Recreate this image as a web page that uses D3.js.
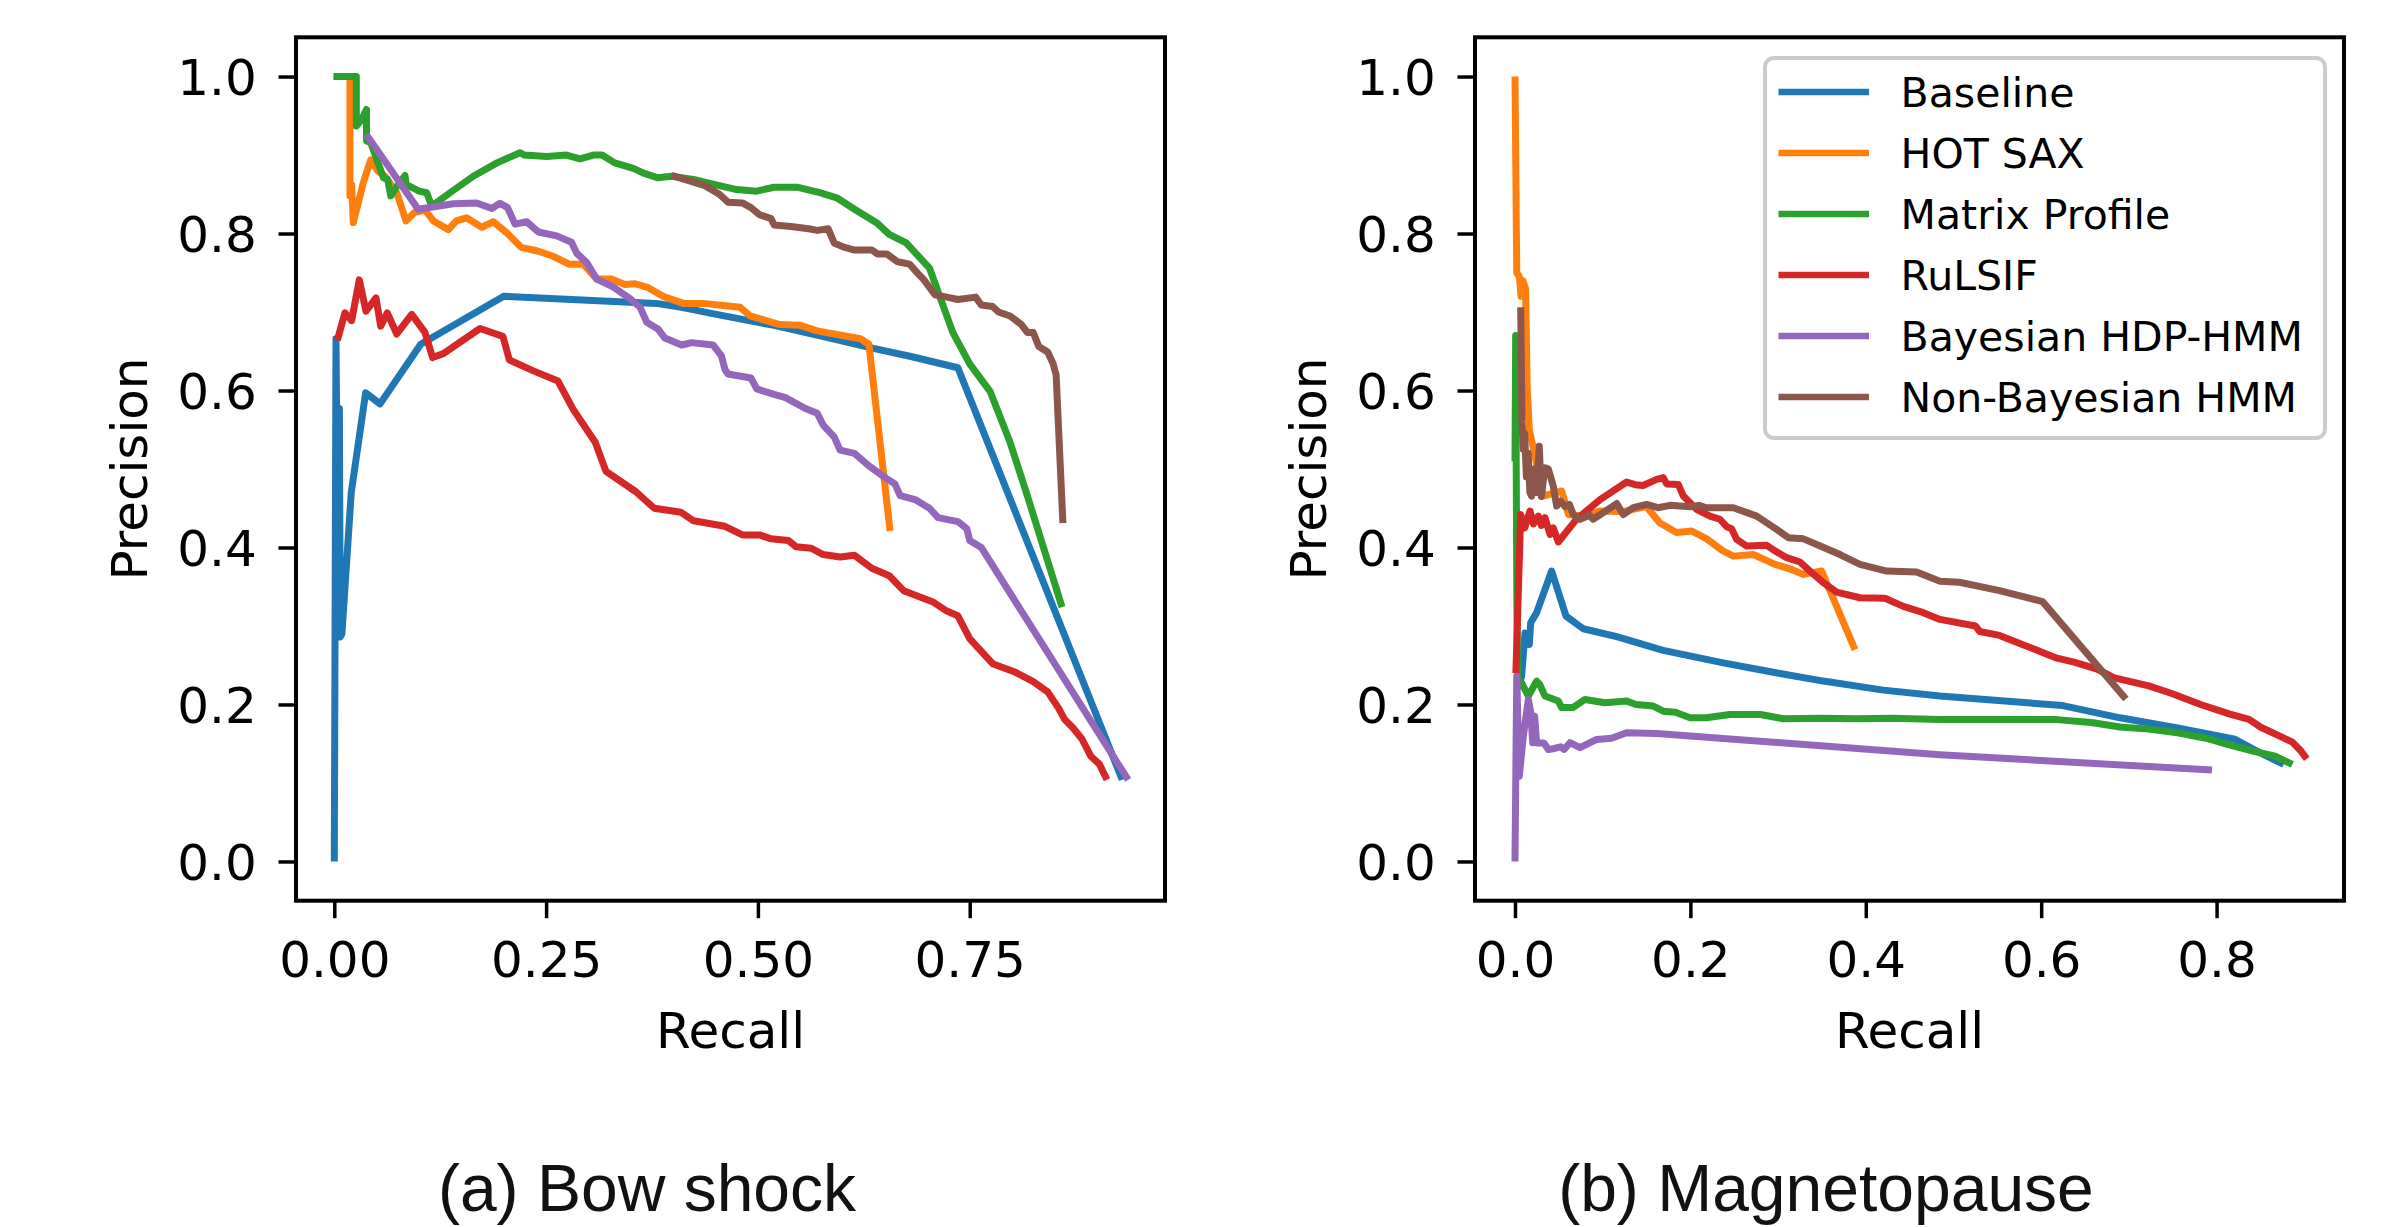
<!DOCTYPE html>
<html>
<head>
<meta charset="utf-8">
<script src="https://cdn.jsdelivr.net/npm/d3@7"></script>
<style>
  html, body { margin: 0; padding: 0; background: #ffffff; }
  svg { display: block; }
</style>
</head>
<body>
<svg id="chart" width="2385" height="1227"></svg>
<script>
// ---------------- DATA ----------------
const seriesNames = ["Baseline", "HOT SAX", "Matrix Profile", "RuLSIF", "Bayesian HDP-HMM", "Non-Bayesian HMM"];
const seriesColors = ["#1f77b4", "#ff7f0e", "#2ca02c", "#d62728", "#9467bd", "#8c564b"];

const yTickValues = [0.0, 0.2, 0.4, 0.6, 0.8, 1.0];
const yTickLabels = ["0.0", "0.2", "0.4", "0.6", "0.8", "1.0"];
const bowXTickValues = [0, 0.25, 0.5, 0.75];
const bowXTickLabels = ["0.00", "0.25", "0.50", "0.75"];
const mpXTickValues = [0, 0.2, 0.4, 0.6, 0.8];
const mpXTickLabels = ["0.0", "0.2", "0.4", "0.6", "0.8"];

const captions = ["(a) Bow shock", "(b) Magnetopause"];

// (a) Bow shock : [recall, precision]
const bowBaseline = [[0,0],[0.002,0.666],[0.005,0.286],[0.006,0.577],[0.007,0.286],[0.009,0.29],[0.02,0.47],[0.037,0.597],[0.054,0.583],[0.102,0.659],[0.2,0.72],[0.38,0.711],[0.41,0.706],[0.451,0.697],[0.519,0.683],[0.58,0.668],[0.635,0.654],[0.682,0.643],[0.736,0.629],[0.93,0.104]];
const bowHotSax = [[0.0185,1.0],[0.0185,0.848],[0.0205,0.862],[0.0224,0.814],[0.0343,0.865],[0.043,0.894],[0.051,0.880],[0.06,0.873],[0.0737,0.852],[0.0846,0.816],[0.095,0.827],[0.107,0.83],[0.117,0.816],[0.1346,0.805],[0.144,0.816],[0.156,0.820],[0.174,0.808],[0.1877,0.815],[0.2035,0.801],[0.221,0.782],[0.239,0.778],[0.2585,0.771],[0.277,0.761],[0.294,0.761],[0.3097,0.742],[0.327,0.742],[0.343,0.735],[0.355,0.736],[0.3706,0.731],[0.388,0.720],[0.412,0.711],[0.4355,0.711],[0.479,0.706],[0.4907,0.695],[0.526,0.684],[0.55,0.683],[0.570,0.676],[0.621,0.666],[0.631,0.659],[0.656,0.421]];
const bowMatrix = [[-0.001,1.0],[0.026,1.0],[0.026,0.937],[0.032,0.945],[0.038,0.958],[0.038,0.918],[0.043,0.916],[0.050,0.895],[0.058,0.871],[0.063,0.869],[0.0666,0.848],[0.074,0.86],[0.0834,0.874],[0.085,0.862],[0.093,0.858],[0.10,0.854],[0.109,0.852],[0.115,0.835],[0.1366,0.852],[0.164,0.873],[0.192,0.890],[0.219,0.903],[0.2245,0.900],[0.2507,0.898],[0.274,0.900],[0.290,0.895],[0.3057,0.900],[0.316,0.900],[0.331,0.890],[0.353,0.883],[0.365,0.877],[0.382,0.871],[0.3975,0.873],[0.4237,0.869],[0.447,0.863],[0.475,0.856],[0.4986,0.854],[0.519,0.859],[0.546,0.859],[0.573,0.852],[0.594,0.845],[0.614,0.831],[0.641,0.813],[0.655,0.799],[0.675,0.788],[0.7025,0.756],[0.730,0.674],[0.75,0.634],[0.774,0.599],[0.7976,0.534],[0.818,0.466],[0.859,0.324]];
const bowRulsif = [[0.0036,0.664],[0.0126,0.699],[0.0205,0.689],[0.0295,0.741],[0.0374,0.701],[0.0492,0.718],[0.0548,0.682],[0.0626,0.699],[0.0737,0.672],[0.0914,0.697],[0.107,0.674],[0.116,0.642],[0.1287,0.647],[0.172,0.679],[0.199,0.669],[0.2066,0.639],[0.235,0.625],[0.264,0.612],[0.282,0.576],[0.308,0.534],[0.3207,0.497],[0.356,0.471],[0.3777,0.45],[0.409,0.445],[0.424,0.434],[0.461,0.427],[0.4817,0.416],[0.502,0.416],[0.5156,0.411],[0.536,0.409],[0.545,0.401],[0.563,0.399],[0.577,0.391],[0.597,0.388],[0.614,0.390],[0.6345,0.3736],[0.655,0.364],[0.672,0.345],[0.689,0.338],[0.706,0.331],[0.723,0.319],[0.736,0.313],[0.75,0.284],[0.777,0.252],[0.804,0.241],[0.825,0.229],[0.842,0.216],[0.855,0.195],[0.862,0.181],[0.872,0.170],[0.8825,0.156],[0.893,0.134],[0.903,0.124],[0.912,0.104]];
const bowBayes = [[0.038,0.926],[0.099,0.831],[0.1405,0.838],[0.168,0.839],[0.1858,0.832],[0.1956,0.8385],[0.2045,0.833],[0.2133,0.812],[0.227,0.815],[0.2408,0.802],[0.2625,0.797],[0.280,0.789],[0.286,0.775],[0.298,0.763],[0.3097,0.742],[0.329,0.732],[0.349,0.717],[0.361,0.706],[0.3688,0.687],[0.3824,0.678],[0.390,0.667],[0.410,0.658],[0.4217,0.661],[0.447,0.658],[0.457,0.644],[0.461,0.627],[0.4647,0.621],[0.4918,0.616],[0.4986,0.602],[0.519,0.595],[0.5326,0.591],[0.556,0.577],[0.570,0.571],[0.577,0.556],[0.590,0.541],[0.597,0.524],[0.614,0.52],[0.631,0.504],[0.6515,0.488],[0.6617,0.481],[0.668,0.466],[0.6855,0.461],[0.7025,0.45],[0.7126,0.438],[0.736,0.433],[0.7466,0.424],[0.75,0.409],[0.7636,0.4],[0.937,0.104]];
const bowNonBayes = [[0.398,0.874],[0.4375,0.861],[0.4545,0.85],[0.4647,0.84],[0.4817,0.839],[0.4918,0.833],[0.502,0.824],[0.5156,0.819],[0.519,0.811],[0.539,0.809],[0.5598,0.806],[0.570,0.804],[0.583,0.806],[0.590,0.788],[0.6005,0.783],[0.614,0.779],[0.6345,0.779],[0.641,0.774],[0.652,0.774],[0.665,0.764],[0.679,0.761],[0.689,0.749],[0.696,0.741],[0.709,0.722],[0.723,0.719],[0.736,0.716],[0.757,0.719],[0.7636,0.709],[0.777,0.707],[0.784,0.70],[0.7976,0.695],[0.811,0.684],[0.818,0.674],[0.825,0.674],[0.8315,0.656],[0.842,0.649],[0.8485,0.634],[0.852,0.62],[0.86,0.431]];

// (b) Magnetopause : [recall, precision]
const mpBaseline = [[0.003,0.22],[0.0076,0.236],[0.0114,0.291],[0.0163,0.2765],[0.0179,0.304],[0.0247,0.317],[0.0418,0.370],[0.0582,0.3126],[0.0779,0.2965],[0.116,0.2864],[0.169,0.269],[0.2375,0.253],[0.2945,0.241],[0.3515,0.2298],[0.42,0.2183],[0.4846,0.2107],[0.6246,0.1986],[0.69,0.183],[0.7555,0.170],[0.821,0.1557],[0.847,0.14],[0.8766,0.1236]];
const mpHotSax = [[0,1.0],[0.002,0.75],[0.005,0.745],[0.007,0.72],[0.009,0.74],[0.012,0.73],[0.014,0.60],[0.0163,0.5505],[0.0323,0.4655],[0.0532,0.472],[0.061,0.442],[0.0779,0.44],[0.097,0.4465],[0.1235,0.446],[0.150,0.452],[0.165,0.4316],[0.184,0.419],[0.2015,0.421],[0.2186,0.411],[0.2375,0.3954],[0.249,0.389],[0.2717,0.391],[0.2965,0.3785],[0.3155,0.372],[0.3288,0.3657],[0.3497,0.37],[0.3877,0.270]];
const mpMatrix = [[0,0.51],[0.0008,0.67],[0.002,0.35],[0.003,0.228],[0.0076,0.2277],[0.0152,0.2107],[0.0247,0.2298],[0.028,0.226],[0.0342,0.2107],[0.0494,0.2043],[0.0532,0.196],[0.066,0.196],[0.0798,0.2064],[0.1026,0.2022],[0.1273,0.2043],[0.138,0.2],[0.1577,0.198],[0.169,0.1915],[0.183,0.19],[0.1995,0.1831],[0.218,0.1831],[0.245,0.1873],[0.28,0.1873],[0.306,0.1818],[0.35,0.1825],[0.3896,0.1818],[0.43,0.1825],[0.4846,0.181],[0.618,0.1807],[0.657,0.177],[0.69,0.1714],[0.7227,0.1686],[0.7555,0.164],[0.788,0.157],[0.8144,0.1486],[0.8406,0.141],[0.8668,0.134],[0.8864,0.1236]];
const mpRulsif = [[0.001,0.24],[0.0065,0.442],[0.011,0.425],[0.0171,0.4465],[0.021,0.43],[0.0266,0.44],[0.030,0.428],[0.0342,0.438],[0.04,0.4167],[0.0437,0.425],[0.0494,0.407],[0.070,0.4358],[0.097,0.461],[0.1273,0.4834],[0.137,0.480],[0.146,0.479],[0.1615,0.4868],[0.169,0.489],[0.173,0.481],[0.1862,0.4804],[0.192,0.4655],[0.207,0.4486],[0.2223,0.44],[0.2337,0.436],[0.2414,0.4265],[0.247,0.424],[0.2528,0.4103],[0.2642,0.4018],[0.287,0.4027],[0.296,0.396],[0.3098,0.387],[0.325,0.3815],[0.3364,0.37],[0.3516,0.3552],[0.3668,0.3432],[0.3934,0.336],[0.4219,0.3353],[0.4428,0.325],[0.4656,0.317],[0.4846,0.3084],[0.525,0.300],[0.53,0.293],[0.5525,0.288],[0.585,0.2736],[0.618,0.259],[0.6376,0.254],[0.6638,0.245],[0.6835,0.234],[0.7227,0.2236],[0.749,0.214],[0.7817,0.200],[0.8144,0.188],[0.837,0.181],[0.8504,0.171],[0.8733,0.159],[0.8864,0.152],[0.896,0.141],[0.9028,0.1307]];
const mpBayes = [[0,0],[0.002,0.236],[0.0049,0.1087],[0.0095,0.1597],[0.0152,0.2064],[0.018,0.19],[0.0202,0.1513],[0.0224,0.185],[0.0247,0.151],[0.033,0.151],[0.038,0.1427],[0.045,0.144],[0.052,0.146],[0.056,0.1427],[0.0627,0.1513],[0.0741,0.145],[0.0932,0.1555],[0.11,0.157],[0.1273,0.164],[0.1616,0.163],[0.4846,0.136],[0.7948,0.1164]];
const mpNonBayes = [[0.0065,0.706],[0.008,0.56],[0.0095,0.525],[0.011,0.545],[0.013,0.49],[0.015,0.52],[0.017,0.47],[0.019,0.4655],[0.022,0.50],[0.025,0.47],[0.0277,0.529],[0.030,0.465],[0.0342,0.5017],[0.038,0.50],[0.0437,0.478],[0.0475,0.4528],[0.052,0.459],[0.057,0.452],[0.062,0.455],[0.0665,0.442],[0.0741,0.4358],[0.085,0.441],[0.089,0.436],[0.096,0.441],[0.116,0.456],[0.1235,0.442],[0.1349,0.4507],[0.150,0.455],[0.163,0.4507],[0.1767,0.4537],[0.20,0.452],[0.21,0.4537],[0.218,0.4507],[0.249,0.4507],[0.2756,0.44],[0.2984,0.423],[0.3117,0.4125],[0.329,0.411],[0.348,0.4018],[0.3706,0.391],[0.3934,0.3785],[0.4238,0.370],[0.458,0.3687],[0.4846,0.357],[0.5067,0.3557],[0.5525,0.345],[0.6016,0.331],[0.6966,0.207]];

const bowSeries = [bowBaseline, bowHotSax, bowMatrix, bowRulsif, bowBayes, bowNonBayes];
const mpSeries = [mpBaseline, mpHotSax, mpMatrix, mpRulsif, mpBayes, mpNonBayes];

// ---------------- LAYOUT ----------------
const svg = d3.select("#chart");
svg.append("rect").attr("x", 0).attr("y", 0).attr("width", 2385).attr("height", 1227).attr("fill", "#ffffff");

const FONT = "'DejaVu Sans', 'Noto Sans', sans-serif";
const FS = 50;
const TICK_LEN = 17.5;
const LINE_W = 7;

const yDomain = [-0.05, 1.05];
const plotTop = 37.3, plotBottom = 900.7;

const panels = [
  { left: 296, right: 1165, xDomain: [-0.0452, 0.9805], series: bowSeries, xTicks: bowXTickValues, xLabels: bowXTickLabels, caption: captions[0], capX: 647, legend: false },
  { left: 1475, right: 2344, xDomain: [-0.0456, 0.9453], series: mpSeries, xTicks: mpXTickValues, xLabels: mpXTickLabels, caption: captions[1], capX: 1826, legend: true }
];

panels.forEach((p, pi) => {
  const x = d3.scaleLinear().domain(p.xDomain).range([p.left, p.right]);
  const y = d3.scaleLinear().domain(yDomain).range([plotBottom, plotTop]);

  const clipId = "clip" + pi;
  svg.append("clipPath").attr("id", clipId)
    .append("rect").attr("x", p.left).attr("y", plotTop)
    .attr("width", p.right - p.left).attr("height", plotBottom - plotTop);

  const g = svg.append("g").attr("clip-path", `url(#${clipId})`);
  const line = d3.line().x(d => x(d[0])).y(d => y(d[1]));
  p.series.forEach((s, i) => {
    g.append("path").datum(s)
      .attr("d", line)
      .attr("fill", "none")
      .attr("stroke", seriesColors[i])
      .attr("stroke-width", LINE_W)
      .attr("stroke-linejoin", "round")
      .attr("stroke-linecap", "butt");
  });

  // axes
  const xAxis = d3.axisBottom(x).tickValues(p.xTicks)
    .tickFormat((d, i) => p.xLabels[i]).tickSize(TICK_LEN).tickSizeOuter(0).tickPadding(23.3);
  const gx = svg.append("g").attr("transform", `translate(0,${plotBottom})`).call(xAxis);
  gx.select(".domain").remove();
  gx.selectAll(".tick line").attr("stroke", "#000").attr("stroke-width", 3.5);
  gx.selectAll(".tick text").attr("fill", "#000").style("font-family", FONT).style("font-size", FS + "px");

  const yAxis = d3.axisLeft(y).tickValues(yTickValues)
    .tickFormat((d, i) => yTickLabels[i]).tickSize(TICK_LEN).tickSizeOuter(0).tickPadding(21.8);
  const gy = svg.append("g").attr("transform", `translate(${p.left},0)`).call(yAxis);
  gy.select(".domain").remove();
  gy.selectAll(".tick line").attr("stroke", "#000").attr("stroke-width", 3.5);
  gy.selectAll(".tick text").attr("fill", "#000").attr("dy", "0.36em").style("font-family", FONT).style("font-size", FS + "px");

  // frame
  svg.append("rect").attr("x", p.left).attr("y", plotTop)
    .attr("width", p.right - p.left).attr("height", plotBottom - plotTop)
    .attr("fill", "none").attr("stroke", "#000").attr("stroke-width", 4);

  // axis labels
  svg.append("text").attr("x", (p.left + p.right) / 2).attr("y", 1048)
    .attr("text-anchor", "middle").style("font-family", FONT).style("font-size", FS + "px")
    .text("Recall");
  svg.append("text")
    .attr("transform", `translate(${p.left - 149},${(plotTop + plotBottom) / 2}) rotate(-90)`)
    .attr("text-anchor", "middle").style("font-family", FONT).style("font-size", FS + "px")
    .text("Precision");

  // caption
  svg.append("text").attr("x", p.capX).attr("y", 1211)
    .attr("text-anchor", "middle")
    .style("font-family", "'Liberation Sans', Arial, Helvetica, sans-serif")
    .style("font-size", "66px").attr("fill", "#111")
    .text(p.caption);

  if (p.legend) {
    const lg = svg.append("g");
    lg.append("rect").attr("x", 1765).attr("y", 58).attr("width", 560).attr("height", 380)
      .attr("rx", 9).attr("ry", 9)
      .attr("fill", "#ffffff").attr("fill-opacity", 0.8)
      .attr("stroke", "#cccccc").attr("stroke-width", 4);
    seriesNames.forEach((name, i) => {
      const cy = 92 + i * 61;
      lg.append("line").attr("x1", 1778.5).attr("x2", 1869).attr("y1", cy).attr("y2", cy)
        .attr("stroke", seriesColors[i]).attr("stroke-width", 6.5);
      lg.append("text").attr("x", 1900.6).attr("y", cy + 15)
        .style("font-family", FONT).style("font-size", "41px").text(name);
    });
  }
});
</script>
</body>
</html>
